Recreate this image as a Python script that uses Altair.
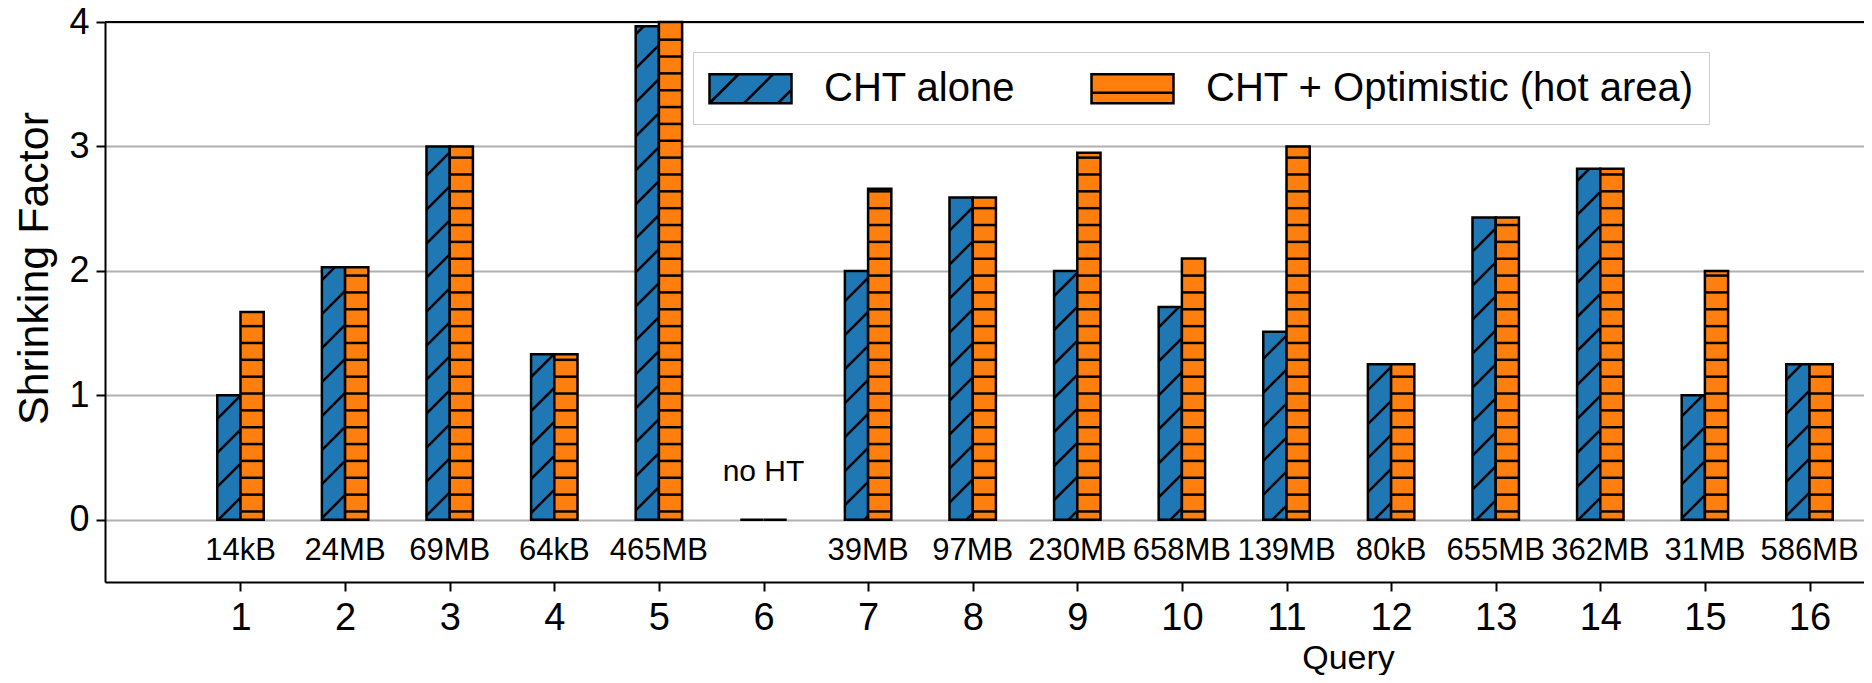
import math
import altair as alt
import pandas as pd

# ---------------- data ----------------
queries = list(range(1, 17))
cht_alone = [1.0, 2.03, 3.0, 1.33, 3.965, 0.0, 2.0, 2.59, 2.0, 1.71,
             1.51, 1.25, 2.43, 2.82, 1.0, 1.25]
cht_optimistic = [1.67, 2.03, 3.0, 1.33, 4.0, 0.0, 2.66, 2.59, 2.95, 2.1,
                  3.0, 1.25, 2.43, 2.82, 2.0, 1.25]
size_labels = ["14kB", "24MB", "69MB", "64kB", "465MB", "", "39MB", "97MB",
               "230MB", "658MB", "139MB", "80kB", "655MB", "362MB", "31MB", "586MB"]
notes = ["", "", "", "", "", "no HT", "", "", "", "", "", "", "", "", "", ""]
series_names = ["CHT alone", "CHT + Optimistic (hot area)"]
y_ticks = [0, 1, 2, 3, 4]

# ---------------- style / layout ----------------
BLUE = "#1f77b4"
ORANGE = "#ff7f0e"
FONT = "Liberation Sans"
PLOT_W, PLOT_H = 1759, 560
XMIN, XMAX = -0.2954, 16.521
YMIN, YMAX = -0.5, 4.0
BAR_W = 0.222
LW = 2.5
PX_X = PLOT_W / (XMAX - XMIN)
PX_Y = PLOT_H / (YMAX - YMIN)

df = pd.DataFrame({"query": queries, "alone": cht_alone, "opt": cht_optimistic,
                   "size": size_labels, "note": notes})

# hatch segments derived from the bar values (decoration only)
DIAG_STEP, DIAG_PHASE = 34.0, 22.7
diag = []
for q, v in zip(queries, cht_alone):
    if v <= 0:
        continue
    xl = q - BAR_W
    L = (xl - XMIN) * PX_X
    w = BAR_W * PX_X
    h = v * PX_Y
    c = ((L + DIAG_PHASE) % DIAG_STEP) - DIAG_STEP
    while c > -w:
        c -= DIAG_STEP
    while c < h:
        t0, t1 = max(0.0, -c), min(w, h - c)
        if t1 - t0 > 0.5:
            diag.append({"hx": xl + t0 / PX_X, "hx2": xl + t1 / PX_X,
                         "hy": (t0 + c) / PX_Y, "hy2": (t1 + c) / PX_Y})
        c += DIAG_STEP
diag_df = pd.DataFrame(diag)

HSTEP, HPHASE = 16.85, 8.3
horiz = []
for q, v in zip(queries, cht_optimistic):
    h = v * PX_Y
    u = HPHASE
    while u < h - 1.0:
        horiz.append({"hx": q, "hx2": q + BAR_W, "hy": u / PX_Y})
        u += HSTEP
horiz_df = pd.DataFrame(horiz)

xs = alt.Scale(domain=[XMIN, XMAX], nice=False, zero=False)
ys = alt.Scale(domain=[YMIN, YMAX], nice=False, zero=False)

x_axis = alt.Axis(values=queries, format="d", title="Query", grid=False,
                  labelFont=FONT, labelFontSize=38, labelColor="black", labelPadding=8,
                  tickSize=9, tickWidth=2, tickColor="black",
                  domainColor="black", domainWidth=2,
                  titleFont=FONT, titleFontSize=34, titleFontWeight="normal",
                  titleColor="black", titleX=1243, titleY=86,
                  titleBaseline="alphabetic", titleAnchor="middle")
y_axis = alt.Axis(values=y_ticks, format="d", title="Shrinking Factor", grid=True,
                  gridColor="#b0b0b0", gridWidth=2,
                  labelFont=FONT, labelFontSize=36, labelColor="black", labelPadding=7,
                  tickSize=9, tickWidth=2, tickColor="black",
                  domainColor="black", domainWidth=2,
                  titleFont=FONT, titleFontSize=43, titleFontWeight="normal",
                  titleColor="black", titleAngle=270, titleX=-71, titleY=246,
                  titleBaseline="middle", titleAlign="center")

base = alt.Chart(df)

blue_bars = base.transform_calculate(
    bx="datum.query - %f" % BAR_W, bx2="datum.query"
).mark_bar(color=BLUE, stroke="black", strokeWidth=LW).encode(
    x=alt.X("bx:Q", scale=xs, axis=x_axis),
    x2="bx2:Q",
    y=alt.Y("alone:Q", scale=ys, axis=y_axis),
    y2=alt.datum(0),
)

orange_bars = base.transform_calculate(
    ox="datum.query", ox2="datum.query + %f" % BAR_W
).mark_bar(color=ORANGE, stroke="black", strokeWidth=LW).encode(
    x=alt.X("ox:Q", scale=xs, axis=x_axis),
    x2="ox2:Q",
    y=alt.Y("opt:Q", scale=ys, axis=y_axis),
    y2=alt.datum(0),
)

diag_lines = alt.Chart(diag_df).mark_rule(color="black", strokeWidth=LW).encode(
    x=alt.X("hx:Q", scale=xs, axis=x_axis), x2="hx2:Q",
    y=alt.Y("hy:Q", scale=ys, axis=y_axis), y2="hy2:Q",
)

horiz_lines = alt.Chart(horiz_df).mark_rule(color="black", strokeWidth=LW).encode(
    x=alt.X("hx:Q", scale=xs, axis=x_axis), x2="hx2:Q",
    y=alt.Y("hy:Q", scale=ys, axis=y_axis),
)

top_spine = alt.Chart(pd.DataFrame({"top": [YMAX]})).mark_rule(
    color="black", strokeWidth=2
).encode(y=alt.Y("top:Q", scale=ys, axis=y_axis))

size_text = base.mark_text(font=FONT, fontSize=31, color="black",
                           baseline="middle", align="center", dy=31).encode(
    x=alt.X("query:Q", scale=xs, axis=x_axis),
    y=alt.YDatum(0, scale=ys, axis=y_axis),
    text="size:N",
)

note_text = base.transform_filter("datum.note != ''").mark_text(
    font=FONT, fontSize=30, color="black", baseline="middle", align="center", dy=-48
).encode(
    x=alt.X("query:Q", scale=xs, axis=x_axis),
    y=alt.YDatum(0, scale=ys, axis=y_axis),
    text="note:N",
)

# legend via custom hatched symbol paths
# size 1600 -> sqrt = 40 px, 1 path unit = 20 px; swatch 82 x 29 px
blue_path = ("M-1,-0.725L3.1,-0.725L3.1,0.725L-1,0.725Z"
             "M-1,0.725L0.45,-0.725M0.72,0.725L2.17,-0.725M2.42,0.725L3.1,0.045")
orange_path = ("M-1,-0.725L3.1,-0.725L3.1,0.725L-1,0.725Z"
               "M-1,0.2L3.1,0.2")
legend_spec = dict(orient="none", legendX=588, legendY=30, direction="horizontal",
                   title=None, labelFont=FONT, labelFontSize=40, labelColor="black",
                   labelLimit=2000, labelOffset=73, columnPadding=70,
                   symbolSize=1600, symbolStrokeWidth=LW,
                   symbolOpacity=1, padding=15, strokeColor="#cccccc",
                   fillColor="white", cornerRadius=0)
leg_df = pd.DataFrame({"series": series_names})
legend_layer = alt.Chart(leg_df).transform_calculate(lx="-5", ly="-5").mark_point(
    filled=True, strokeWidth=LW, clip=True
).encode(
    x=alt.X("lx:Q", scale=xs, axis=x_axis),
    y=alt.Y("ly:Q", scale=ys, axis=y_axis),
    fill=alt.Fill("series:N", scale=alt.Scale(domain=series_names, range=[BLUE, ORANGE]),
                  legend=alt.Legend(**legend_spec)),
    stroke=alt.Stroke("series:N", scale=alt.Scale(domain=series_names,
                                                  range=["black", "black"]),
                      legend=alt.Legend(**legend_spec)),
    shape=alt.Shape("series:N", scale=alt.Scale(domain=series_names,
                                                range=[blue_path, orange_path]),
                    legend=alt.Legend(**legend_spec)),
)

chart = alt.layer(
    blue_bars, orange_bars, diag_lines, horiz_lines, top_spine,
    size_text, note_text, legend_layer
).properties(
    width=PLOT_W, height=PLOT_H,
    autosize=alt.AutoSizeParams(type="none"),
    padding={"left": 97, "top": 14, "right": 0, "bottom": 93},
).configure(font=FONT).configure_view(strokeWidth=0)

chart.save("out.html", embed_options={"renderer": "svg", "actions": False})
